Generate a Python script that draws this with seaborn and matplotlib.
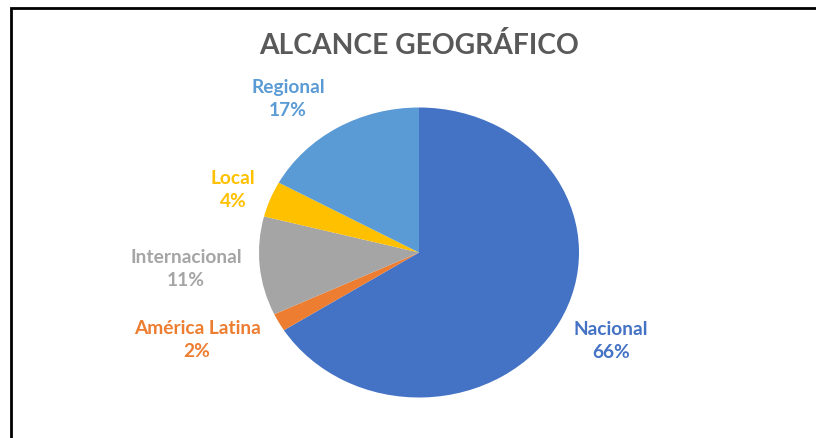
import matplotlib
matplotlib.use("Agg")
import matplotlib.pyplot as plt
import seaborn as sns
from matplotlib.patches import Rectangle

categories = ["Nacional", "América Latina", "Internacional", "Local", "Regional"]
shares = [66, 2, 11, 4, 17]
colors = ["#4472C4", "#ED7D31", "#A5A5A5", "#FFC000", "#5B9BD5"]
# label anchor (pixel x, pixel y of the two-line block centre)
label_px = [(611, 341), (197, 340), (186, 269), (233, 190), (288, 99)]

sns.set_theme(style="white")
plt.rcParams["font.family"] = ["Lato", "DejaVu Sans"]

W, H = 816, 439
fig = plt.figure(figsize=(W / 100, H / 100), dpi=100)
fig.patch.set_facecolor("white")

# outer frame, cut at the right and bottom like the screenshot
fig.patches.append(Rectangle((11 / W, -0.1), 1.2, 1 - 9 / H + 0.1,
                             transform=fig.transFigure, fill=False,
                             edgecolor="black", linewidth=2.0))

cx, cy, rx, ry = 419, 253.5, 160, 145
ax = fig.add_axes([(cx - rx) / W, (H - cy - ry) / H, 2 * rx / W, 2 * ry / H])
ax.pie(shares, colors=colors, startangle=90, counterclock=False,
       wedgeprops=dict(linewidth=0))
ax.set_aspect("auto")
ax.set_xlim(-1, 1)
ax.set_ylim(-1, 1)
ax.axis("off")

fig.text(419 / W, 1 - 45 / H, "ALCANCE GEOGRÁFICO", ha="center", va="center",
         fontsize=20.3, fontweight="bold", color="#595959")

for name, val, col, (px, py) in zip(categories, shares, colors, label_px):
    fig.text(px / W, 1 - py / H, f"{name}\n{val}%", ha="center", va="center",
             fontsize=13.8, fontweight="bold", color=col, linespacing=1.45)

fig.savefig("out.png", dpi=100, facecolor="white")
